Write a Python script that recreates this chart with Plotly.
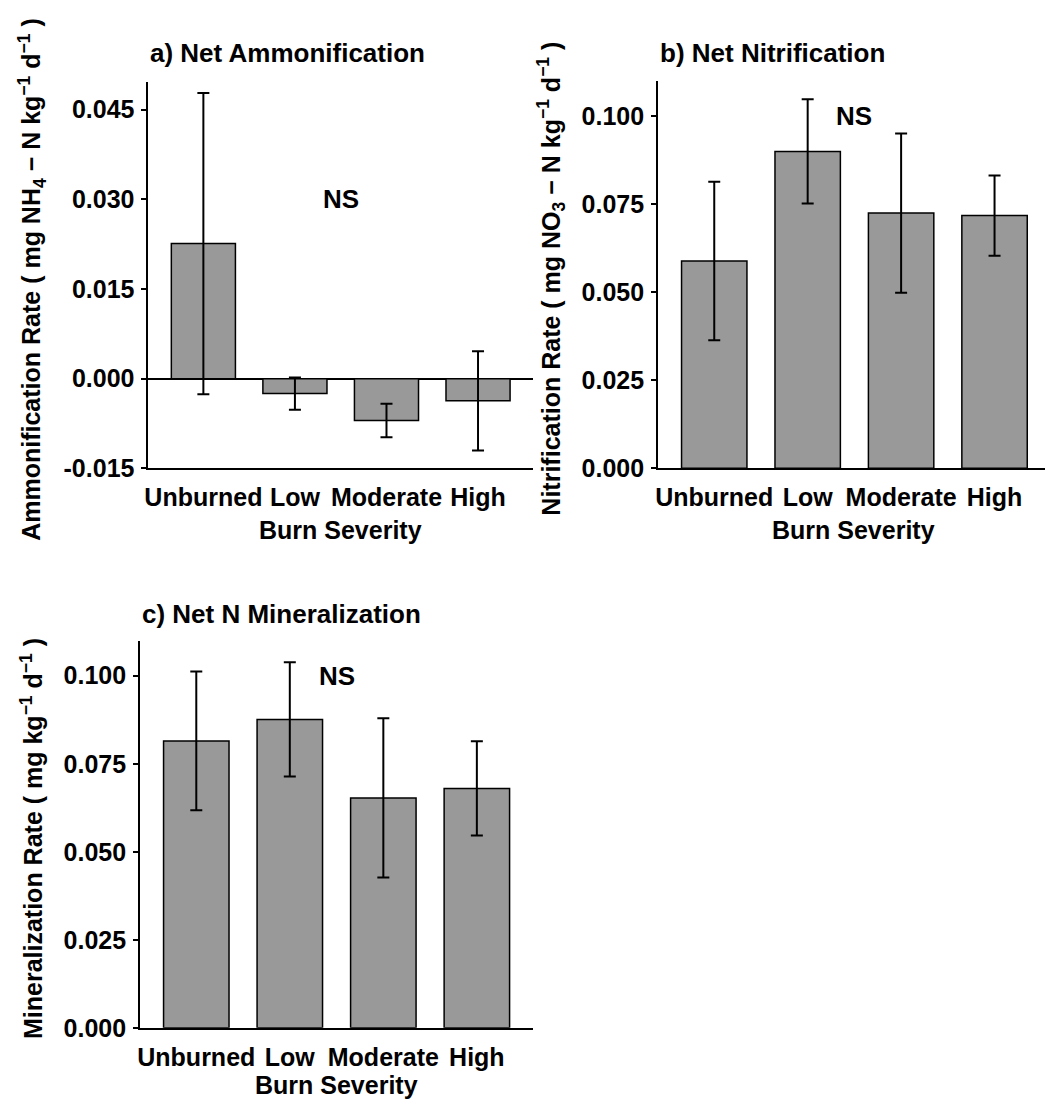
import plotly.graph_objects as go

# ---------------- data ----------------
categories = ["Unburned", "Low", "Moderate", "High"]

ammon_mean = [0.0226, -0.0025, -0.0070, -0.0037]
ammon_se = [0.0252, 0.0027, 0.0028, 0.0083]

nitr_mean = [0.0588, 0.0899, 0.0724, 0.0717]
nitr_se = [0.0225, 0.0148, 0.0226, 0.0114]

miner_mean = [0.0815, 0.0876, 0.0653, 0.0680]
miner_se = [0.0197, 0.0162, 0.0226, 0.0134]

ammon_tickvals = [-0.015, 0.0, 0.015, 0.030, 0.045]
ammon_ticktext = ["-0.015", "0.000", "0.015", "0.030", "0.045"]
rate_tickvals = [0.0, 0.025, 0.050, 0.075, 0.100]
rate_ticktext = ["0.000", "0.025", "0.050", "0.075", "0.100"]

panel_titles = ["a) Net Ammonification", "b) Net Nitrification", "c) Net N Mineralization"]
y_titles = [
    "Ammonification Rate ( mg NH<sub>4</sub> \u2212 N kg<sup>\u22121</sup> d<sup>\u22121</sup> )",
    "Nitrification Rate ( mg NO<sub>3</sub> \u2212 N kg<sup>\u22121</sup> d<sup>\u22121</sup> )",
    "Mineralization Rate ( mg kg<sup>\u22121</sup> d<sup>\u22121</sup> )",
]
x_title = "Burn Severity"
sig_label = "NS"

# ---------------- layout helpers ----------------
W, H = 1045, 1110
FONT = "Liberation Sans, Arial, sans-serif"


def px(x):
    return x / W


def py(y):
    return 1 - y / H


panels = [
    dict(mean=ammon_mean, se=ammon_se, tv=ammon_tickvals, tt=ammon_ticktext,
         x0=145, x1=531, y0=82.7, y1=474.3, yr=[-0.015, 0.0497], xr=[-0.6, 3.6],
         ns_y=0.030, zeroline=True, ytx=28, xtx=338, xty=537, tty=54),
    dict(mean=nitr_mean, se=nitr_se, tv=rate_tickvals, tt=rate_ticktext,
         x0=656.7, x1=1045, y0=82.3, y1=474.3, yr=[0, 0.1098], xr=[-0.6, 3.54],
         ns_y=0.100, zeroline=False, ytx=549, xtx=853, xty=537, tty=54),
    dict(mean=miner_mean, se=miner_se, tv=rate_tickvals, tt=rate_ticktext,
         x0=136.7, x1=531, y0=648.7, y1=1041, yr=[0, 0.110], xr=[-0.6, 3.6],
         ns_y=0.100, zeroline=False, ytx=28, xtx=334, xty=1099, tty=622),
]

fig = go.Figure()
annotations = []

for i, p in enumerate(panels):
    n = "" if i == 0 else str(i + 1)
    fig.add_trace(go.Bar(
        x=categories, y=p["mean"], width=0.7,
        marker=dict(color="#999999", line=dict(color="black", width=1.5)),
        error_y=dict(type="data", array=p["se"], visible=True,
                     color="black", thickness=2, width=6),
        xaxis="x" + n, yaxis="y" + n, showlegend=False,
    ))
    fig.layout["xaxis" + n] = dict(
        domain=[px(p["x0"]), px(p["x1"])], anchor="y" + n,
        range=p["xr"], showline=True, linecolor="black", linewidth=2,
        ticks="", showgrid=False, zeroline=False, ticklabelstandoff=6,
        tickfont=dict(family=FONT, size=25, color="black", weight="bold"),
        fixedrange=True,
    )
    fig.layout["yaxis" + n] = dict(
        domain=[py(p["y1"]), py(p["y0"])], anchor="x" + n,
        range=p["yr"], showline=True, linecolor="black", linewidth=2,
        ticks="outside", ticklen=5, tickwidth=2, tickcolor="black",
        tickvals=p["tv"], ticktext=p["tt"], showgrid=False,
        zeroline=p["zeroline"], zerolinecolor="black", zerolinewidth=2,
        ticklabelstandoff=2,
        tickfont=dict(family=FONT, size=25, color="black", weight="bold"),
        fixedrange=True,
    )
    # panel title
    annotations.append(dict(
        text=panel_titles[i], xref="paper", yref="paper",
        x=px(p["x0"]), y=py(p["tty"]), xanchor="left", yanchor="middle",
        showarrow=False, font=dict(family=FONT, size=26, color="black", weight="bold"),
    ))
    # NS label
    annotations.append(dict(
        text=sig_label, xref="x" + n, yref="y" + n, x=1.5, y=p["ns_y"],
        xanchor="center", yanchor="middle", showarrow=False,
        font=dict(family=FONT, size=26, color="black", weight="bold"),
    ))
    # y-axis title
    annotations.append(dict(
        text=y_titles[i], xref="paper", yref="paper",
        x=px(p["ytx"]), y=py((p["y0"] + p["y1"]) / 2 + 4), textangle=-90,
        xanchor="center", yanchor="middle", showarrow=False,
        font=dict(family=FONT, size=25, color="black", weight="bold"),
    ))
    # x-axis title
    annotations.append(dict(
        text=x_title, xref="paper", yref="paper",
        x=px(p["xtx"]), y=py(p["xty"]), xanchor="center", yanchor="middle",
        showarrow=False, font=dict(family=FONT, size=25, color="black", weight="bold"),
    ))

fig.update_layout(
    width=W, height=H, margin=dict(l=0, r=0, t=0, b=0),
    paper_bgcolor="white", plot_bgcolor="white",
    font=dict(family=FONT, size=24, color="black", weight="bold"),
    annotations=annotations, bargap=0.3,
)

fig.write_html("out.html", config={"displayModeBar": False})
